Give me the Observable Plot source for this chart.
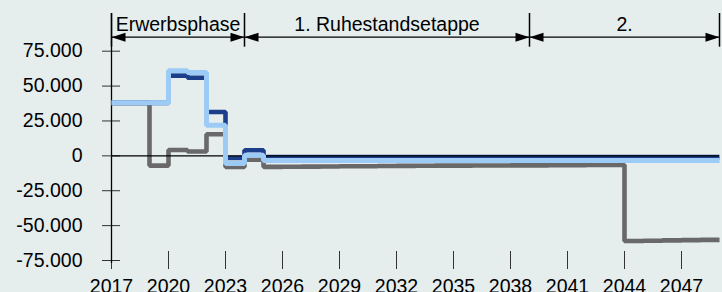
<!DOCTYPE html>
<html><head><meta charset="utf-8">
<script src="https://cdn.jsdelivr.net/npm/d3@7"></script>
<script src="https://cdn.jsdelivr.net/npm/@observablehq/plot@0.6"></script>
<style>
html,body{margin:0;padding:0;background:#e5eded;}
#chart svg{display:block;}
</style></head><body><div id="chart"></div>
<script>
const years = [2017,2018,2019,2020,2021,2022,2023,2024,2025,2026,2027,2028,2029,2030,2031,2032,
  2033,2034,2035,2036,2037,2038,2039,2040,2041,2042,2043,2044,2045,2046,2047,2048];
const xEnd = 2049;
const grayValues = [38000,38000,-7000,4200,3100,15500,-8000,-2800,-7900,-7800,-7700,-7600,-7500,-7400,-7300,-7200,
  -7100,-7000,-7000,-6900,-6900,-6800,-6800,-6700,-6700,-6600,-6600,-61000,-60800,-60600,-60400,-60200];
const darkBlueValues = [38000,38000,38000,57500,56000,31400,-1500,4000,-900,-900,-900,-900,-900,-900,-900,-900,
  -900,-900,-900,-900,-900,-900,-900,-900,-900,-900,-900,-900,-900,-900,-900,-900];
const lightBlueValues = [38000,38000,38000,61000,59800,21900,-5400,500,-3300,-3300,-3300,-3300,-3300,-3300,-3300,-3300,
  -3300,-3300,-3300,-3300,-3300,-3300,-3300,-3300,-3300,-3300,-3300,-3300,-3300,-3300,-3300,-3300];
const xTicks = [2017,2020,2023,2026,2029,2032,2035,2038,2041,2044,2047];
const yTicks = [-75000,-50000,-25000,0,25000,50000,75000];
const phaseLabels = ["Erwerbsphase","1. Ruhestandsetappe","2."];
const phaseStarts = [2017,2024,2039];
const phaseEnds = [2024,2039,2049];

const phases = phaseLabels.map((label,i)=>({label, start: phaseStarts[i], end: phaseEnds[i]}));
const boundaries = [phaseStarts[0], ...phaseEnds];
const arrowHeads = phases.flatMap(p => [{x: p.start, rot: -90}, {x: p.end, rot: 90}]);
const series = vals => years.map((y,i)=>({year:y, value: vals[i]})).concat([{year: xEnd, value: vals[vals.length-1]}]);

const fmt = d3.formatLocale({decimal: ",", thousands: ".", grouping: [3], currency: ["", "€"], minus: "-"}).format(",");
const tri = {draw(ctx, l) { ctx.moveTo(0, -l); ctx.lineTo(-4.5, 0); ctx.lineTo(4.5, 0); ctx.closePath(); }};
const yTop = yTicks[yTicks.length-1];

const chart = Plot.plot({
  width: 722, height: 292,
  marginLeft: 111, marginRight: 3, marginTop: 50.7, marginBottom: 32,
  style: {fontFamily: "'Liberation Sans', Arial, sans-serif", fontSize: "19.5px", background: "#e5eded", color: "#000", overflow: "visible"},
  x: {domain: [years[0], xEnd]},
  y: {domain: [yTicks[0], yTop]},
  marks: [
    Plot.axisY(yTicks, {tickSize: 18, dx: 9, tickPadding: 20, tickFormat: fmt, label: null, stroke: "#333"}),
    Plot.axisX(xTicks, {tickSize: 18, dy: -9, tickPadding: 10, tickFormat: d => String(d), label: null, stroke: "#333"}),
    Plot.ruleX([years[0]], {stroke: "#000", strokeWidth: 1.3, insetTop: -37.7, insetBottom: -3}),
    Plot.line(series(grayValues), {x: "year", y: "value", curve: "step-after", stroke: "#696969", strokeWidth: 4.6, strokeLinejoin: "miter", strokeLinecap: "butt"}),
    Plot.line(series(darkBlueValues), {x: "year", y: "value", curve: "step-after", stroke: "#1c3f8c", strokeWidth: 4.6, strokeLinejoin: "miter", strokeLinecap: "butt"}),
    Plot.ruleY([0], {stroke: "#000", strokeWidth: 1.3}),
    Plot.line(series(lightBlueValues), {x: "year", y: "value", curve: "step-after", stroke: "#9ccbf6", strokeWidth: 5, strokeLinejoin: "miter", strokeLinecap: "butt"}),
    // phase annotation
    Plot.ruleX(boundaries, {x: d => d, stroke: "#000", strokeWidth: 1.5, insetTop: -37.7, insetBottom: 213.3}),
    Plot.ruleY(phases, {y: () => yTop, x1: "start", x2: "end", dy: -14, stroke: "#000", strokeWidth: 1.3}),
    Plot.vector(arrowHeads, {x: "x", frameAnchor: "top", dy: -14, rotate: "rot", length: 14, anchor: "end", shape: tri, fill: "#000", stroke: "none"}),
    Plot.text(phases, {x: d => (d.start + d.end) / 2, frameAnchor: "top", dy: -20.7, lineAnchor: "bottom", text: "label", fill: "#000"})
  ]
});
document.getElementById("chart").append(chart);
</script></body></html>
